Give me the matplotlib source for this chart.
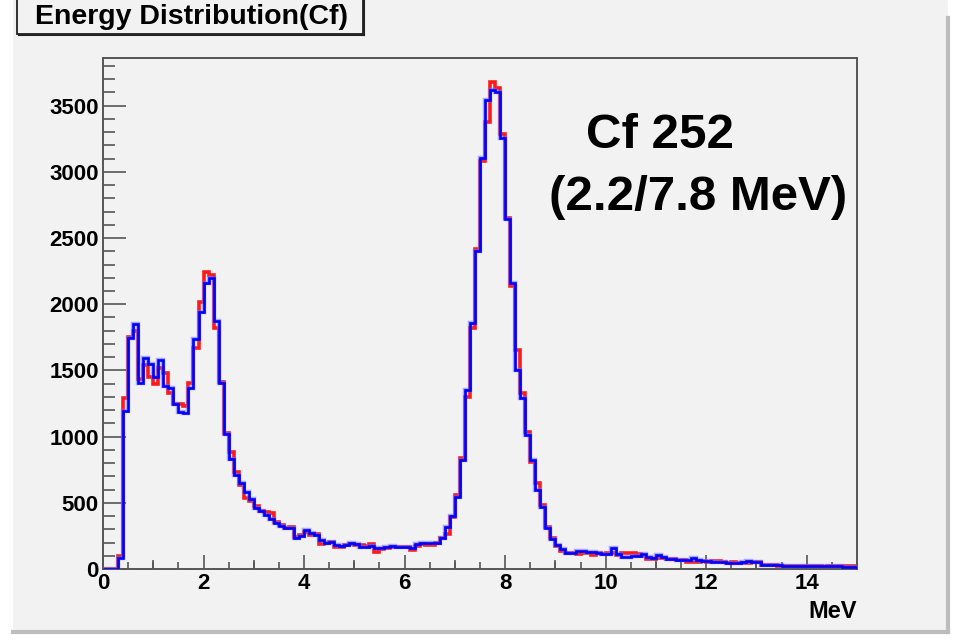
import numpy as np
import matplotlib
matplotlib.use("Agg")
import matplotlib.pyplot as plt
from matplotlib.patches import Rectangle
from matplotlib.lines import Line2D

plt.rcParams['font.family'] = ['Liberation Sans', 'DejaVu Sans']
plt.rcParams['font.weight'] = 'bold'

# ---- data (counts per 0.1 MeV bin, 0..15 MeV) ----
bin_width = 0.1
x_min, x_max = 0.0, 15.0

blue_counts = [
    0, 0, 0, 85, 1196, 1742, 1848, 1407, 1596, 1546,
    1453, 1579, 1382, 1367, 1246, 1188, 1176, 1369, 1737, 1939,
    2158, 2196, 1873, 1407, 1020, 831, 710, 652, 579, 530,
    460, 441, 408, 378, 345, 325, 312, 312, 232, 252,
    295, 274, 257, 219, 199, 206, 181, 174, 181, 199,
    189, 164, 169, 174, 156, 156, 169, 174, 169, 169,
    169, 156, 189, 194, 194, 194, 194, 237, 315, 400,
    545, 823, 1352, 1856, 2404, 3102, 3542, 3618, 3600, 3258,
    2643, 2158, 1503, 1289, 1012, 823, 597, 471, 312, 230,
    181, 149, 123, 118, 136, 136, 131, 131, 118, 111,
    111, 156, 111, 93, 93, 98, 98, 111, 93, 81,
    106, 88, 73, 73, 68, 68, 68, 81, 68, 63,
    63, 55, 55, 55, 48, 48, 48, 55, 60, 55,
    55, 30, 30, 28, 28, 25, 25, 25, 25, 25,
    23, 23, 23, 20, 20, 20, 20, 18, 18, 18,
]

red_counts = [
    0, 0, 0, 95, 1289, 1755, 1800, 1437, 1541, 1450,
    1400, 1520, 1480, 1330, 1246, 1247, 1235, 1407, 1669, 2019,
    2246, 2220, 1820, 1415, 1025, 881, 735, 634, 540, 516,
    475, 435, 430, 425, 358, 330, 312, 315, 245, 257,
    282, 257, 262, 187, 194, 206, 169, 164, 181, 189,
    181, 181, 174, 189, 131, 149, 156, 164, 164, 169,
    164, 144, 174, 189, 181, 181, 194, 232, 266, 395,
    560, 835, 1302, 1818, 2417, 3082, 3380, 3676, 3636, 3283,
    2650, 2140, 1654, 1328, 1032, 810, 647, 480, 320, 235,
    174, 138, 123, 118, 113, 118, 118, 108, 118, 113,
    118, 118, 108, 118, 118, 118, 111, 98, 73, 73,
    81, 81, 73, 73, 68, 68, 55, 50, 55, 63,
    55, 58, 63, 53, 48, 55, 43, 43, 48, 55,
    55, 30, 28, 30, 25, 20, 25, 23, 25, 20,
    23, 25, 20, 18, 20, 25, 25, 20, 23, 25,
]

x_major_ticks = [0, 2, 4, 6, 8, 10, 12, 14]
y_major_ticks = [0, 500, 1000, 1500, 2000, 2500, 3000, 3500]

title_text = "Energy Distribution(Cf)"
annot_line1 = "Cf 252"
annot_line2 = "(2.2/7.8 MeV)"
x_unit = "MeV"

# ---- figure ----
W, H = 955, 643
fig = plt.figure(figsize=(W / 100, H / 100), dpi=100)
fig.patch.set_facecolor('white')

def fx(px):
    return px / W

def fy(py):
    return 1 - py / H

# canvas pad background
fig.patches.append(Rectangle((fx(13), fy(632)), fx(948) - fx(13), fy(0) - fy(632),
                             transform=fig.transFigure, facecolor='#f2f2f2',
                             edgecolor='none', zorder=-10))
# canvas border (right / bottom)
fig.lines.append(Line2D([fx(948), fx(948)], [fy(632), fy(18)], transform=fig.transFigure,
                        color='#bdbdbd', lw=3, zorder=1))
fig.lines.append(Line2D([fx(13), fx(948)], [fy(632), fy(632)], transform=fig.transFigure,
                        color='#bdbdbd', lw=3, zorder=1))

ax = fig.add_axes([fx(103), fy(569), fx(857) - fx(103), fy(58) - fy(569)])
ax.set_zorder(2)
ax.set_facecolor('#f2f2f2')

edges = np.linspace(x_min, x_max, len(blue_counts) + 1)
ax.stairs(red_counts, edges, color='#ff1a1a', lw=2.6, zorder=2)
ax.stairs(blue_counts, edges, color='#6a6aff', lw=3.2, alpha=0.55, zorder=3)
ax.stairs(blue_counts, edges, color='#0000ff', lw=1.9, zorder=4)

ax.set_xlim(x_min, x_max)
ax.set_ylim(0, 3860)

ax.set_xticks(x_major_ticks)
ax.set_xticks(np.arange(0, 15.01, 0.5), minor=True)
ax.set_yticks(y_major_ticks)
ax.set_yticks(np.arange(0, 3860, 100), minor=True)

for s in ax.spines.values():
    s.set_color('#555555')
    s.set_linewidth(1.4)

ax.tick_params(axis='both', which='both', direction='in', color='#555555',
               width=1.2, labelsize=16, labelcolor='black')
ax.tick_params(axis='x', which='major', length=10, pad=3.0)
ax.tick_params(axis='x', which='minor', length=5)
ax.tick_params(axis='y', which='major', length=16.5, pad=3.0)
ax.tick_params(axis='y', which='minor', length=8.5)
ax.tick_params(top=False, right=False, which='both')
for lab in ax.get_xticklabels() + ax.get_yticklabels():
    lab.set_fontweight('bold')

# medium ticks at odd integers (ROOT secondary divisions)
sec = ax.secondary_xaxis('bottom')
sec.set_xticks([1, 3, 5, 7, 9, 11, 13])
sec.tick_params(direction='in', length=6.5, width=1.2, color='#555555', labelbottom=False)
sec.spines['bottom'].set_visible(False)

# axis unit
fig.text(fx(857), fy(618), x_unit, ha='right', va='baseline', fontsize=17,
         fontweight='bold', zorder=5)

# annotations
fig.text(fx(586), fy(148), annot_line1, ha='left', va='baseline', fontsize=35.5,
         fontweight='bold', zorder=5)
fig.text(fx(549), fy(210), annot_line2, ha='left', va='baseline', fontsize=35.5,
         fontweight='bold', zorder=5)

# title box
fig.patches.append(Rectangle((fx(17), fy(34)), fx(363) - fx(17), fy(-6) - fy(34),
                             transform=fig.transFigure, facecolor='#f2f2f2',
                             edgecolor='#222222', lw=1.3, zorder=5))
fig.lines.append(Line2D([fx(19), fx(364)], [fy(35), fy(35)], transform=fig.transFigure,
                        color='#222222', lw=1.5, zorder=6))
fig.lines.append(Line2D([fx(364), fx(364)], [fy(35), fy(0)], transform=fig.transFigure,
                        color='#222222', lw=1.5, zorder=6))
fig.text(fx(191), fy(24), title_text, ha='center', va='baseline', fontsize=20.5,
         fontweight='bold', zorder=7)

fig.savefig('out.png', dpi=100, facecolor=fig.get_facecolor())
